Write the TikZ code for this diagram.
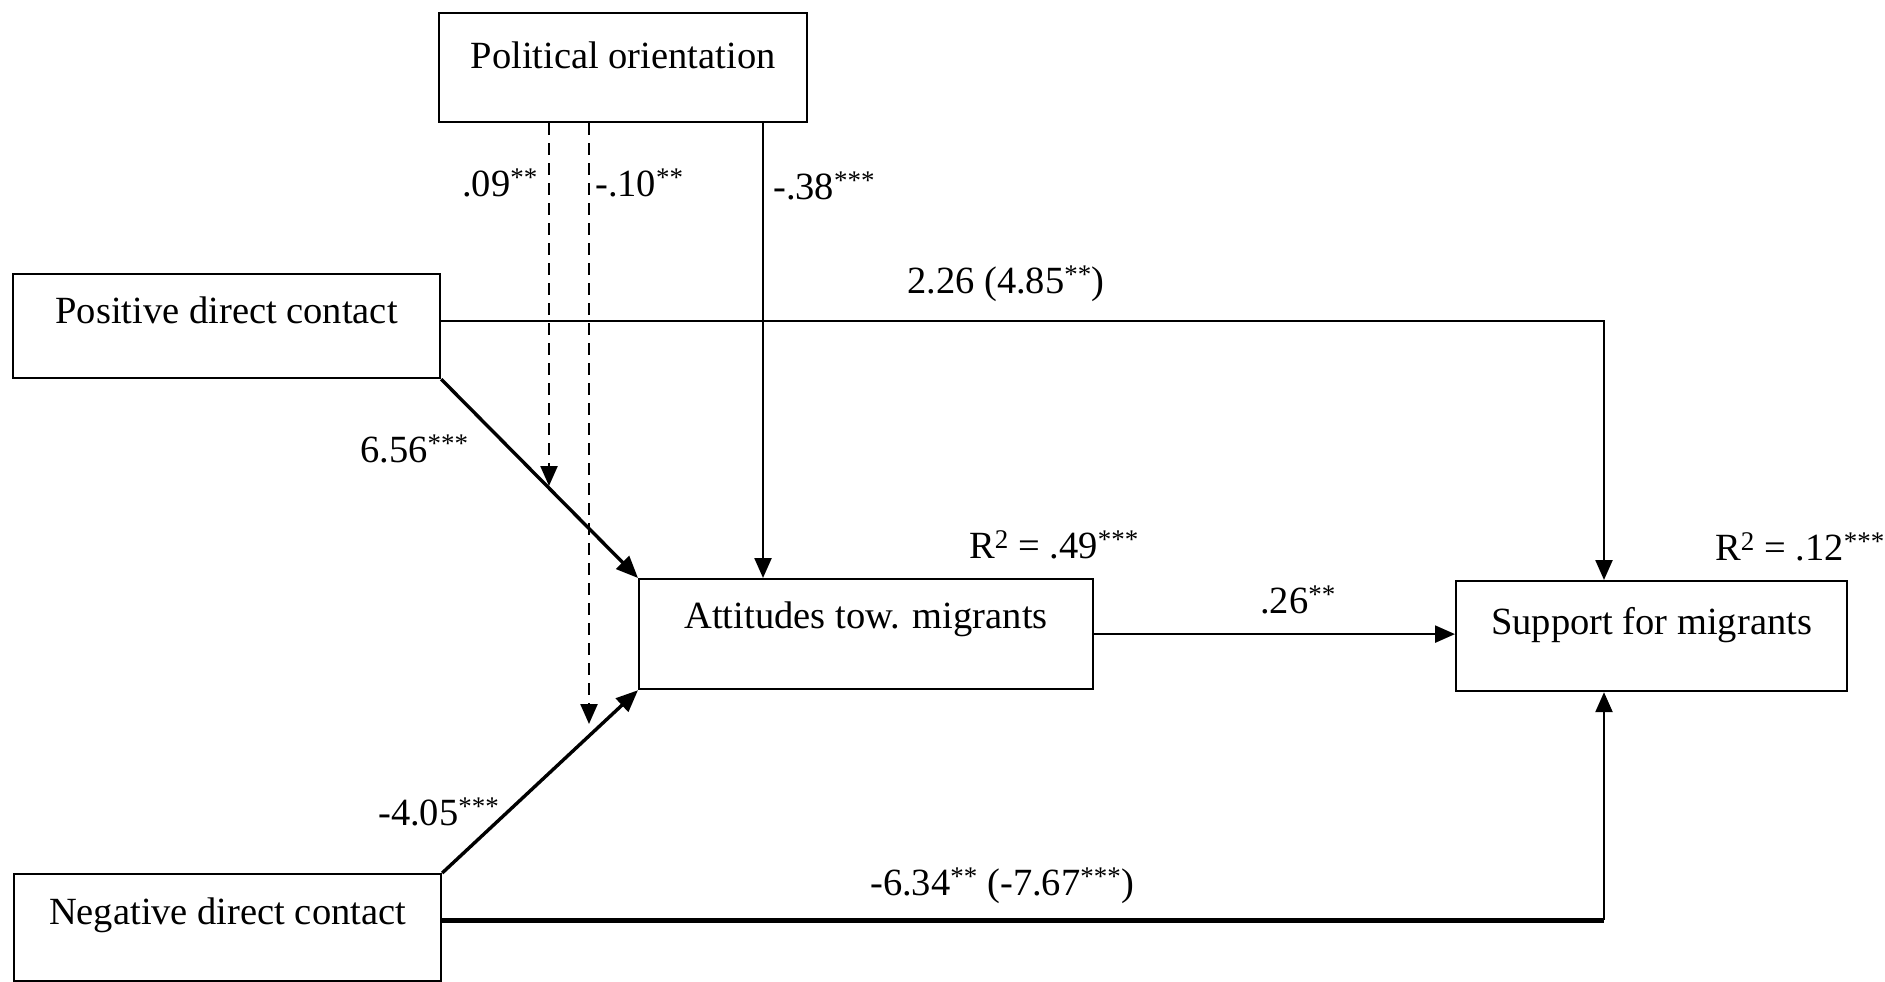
\documentclass[tikz,border=0pt]{standalone}
\usepackage{fontspec}
\setmainfont{Liberation Serif}
\usetikzlibrary{arrows.meta}
\begin{document}
\begin{tikzpicture}[x=1pt,y=-1pt,
  every node/.style={font=\fontsize{38.5}{46}\selectfont, inner sep=0pt},
  varbox/.style={draw, line width=2.2pt, anchor=north west, inner xsep=0pt, align=center},
  lab/.style={anchor=base west},
  arr/.style={line width=2.4pt, -{Triangle[length=20pt,width=17pt]}},
  thickarr/.style={line width=3.4pt, -{Triangle[length=22pt,width=18pt]}},
  dasharr/.style={line width=2.4pt, dash pattern=on 12pt off 8pt, -{Triangle[length=20pt,width=17pt]}}
]
\useasboundingbox (0,0) rectangle (1885,982);
% boxes
\node[varbox, minimum width=368pt, text height=55pt, text depth=54pt] (pol) at (438,12) {Political orientation};
\node[varbox, minimum width=427pt, text height=49pt, text depth=55pt] (pos) at (12,273) {Positive direct contact};
\node[varbox, minimum width=454pt, text height=49pt, text depth=61pt] (att) at (638,578) {Attitudes tow. migrants};
\node[varbox, minimum width=391pt, text height=53pt, text depth=57pt] (sup) at (1455,580) {Support for migrants};
\node[varbox, minimum width=427pt, text height=50pt, text depth=57pt] (neg) at (13,873) {Negative direct contact};
% helper coordinates
\coordinate (d1) at (549,486);
\coordinate (d2) at (589,724);
% connectors
\draw[arr] (pol.south -| 763,0) -- (att.north -| 763,0);
\draw[arr] (pos.east |- 0,321) -| (sup.north -| 1604,0);
\draw[thickarr] (pos.south east) -- (att.north west);
\draw[thickarr] (neg.north east) -- (att.south west);
\draw[arr] (att.east) -- (sup.west |- att.east);
\draw[line width=5pt] (neg.east |- 0,920) -- (1604,920) coordinate (nc);
\draw[arr] (nc) -- (sup.south -| nc);
\draw[dasharr] (pol.south -| d1) -- (d1);
\draw[dasharr] (pol.south -| d2) -- (d2);
% labels
\node[anchor=base east] (l09) at (538,196) {.09\textsuperscript{**}};
\node[lab] (l10) at (595,196) {-.10\textsuperscript{**}};
\node[lab] (l38) at (773,199) {-.38\textsuperscript{***}};
\node[lab] (l226) at (907,293) {2.26 (4.85\textsuperscript{**})};
\node[lab] (l656) at (360,462) {6.56\textsuperscript{***}};
\node[lab] (l405) at (378,825) {-4.05\textsuperscript{***}};
\node[lab] (l634) at (870,895) {-6.34\textsuperscript{**} (-7.67\textsuperscript{***})};
\node[lab] (l26) at (1260,613) {.26\textsuperscript{**}};
\node[lab] (r49) at (969,558) {R\textsuperscript{2} = .49\textsuperscript{***}};
\node[lab] (r12) at (1715,560) {R\textsuperscript{2} = .12\textsuperscript{***}};
\end{tikzpicture}
\end{document}
